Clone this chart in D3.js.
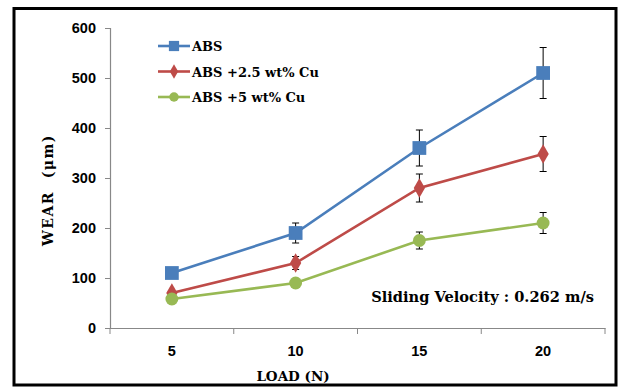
<!DOCTYPE html>
<html><head><meta charset="utf-8">
<script src="https://cdn.jsdelivr.net/npm/d3@7"></script>
<style>body{margin:0;background:#fff}svg{display:block}</style>
</head><body>
<svg id="c" width="620" height="387"></svg>
<script>
const loads = ["5","10","15","20"];
const seriesNames = ["ABS","ABS +2.5 wt% Cu","ABS +5 wt% Cu"];
const absWear = [110,190,360,510];
const absErr = [0,20,36,51];
const cu25Wear = [70,130,280,348];
const cu25Err = [0,13,28,35];
const cu5Wear = [58,90,175,210];
const cu5Err = [0,0,17,21];
const yTicks = [0,100,200,300,400,500,600];
const colors = ["#4a7ebb","#be4b48","#98b954"];
const symbols = [d3.symbolSquare,d3.symbolDiamond,d3.symbolCircle];
const symSizes = [190,110,130];

const svg = d3.select("#c");
svg.append("rect").attr("x",14).attr("y",8.5).attr("width",602).attr("height",376.5).attr("fill","#fff").attr("stroke","#000").attr("stroke-width",3);

const x = d3.scaleBand().domain(loads).range([110,605]);
const y = d3.scaleLinear().domain([0,600]).range([328,28]);

const ax = svg.append("g").attr("transform","translate(0,328)").call(d3.axisBottom(x).tickSize(0).tickFormat(""));
ax.select(".domain").attr("stroke","#888").attr("stroke-width",1.2);
svg.append("g").selectAll("line").data(d3.range(loads.length+1)).join("line")
  .attr("x1",i=>110+i*x.step()).attr("x2",i=>110+i*x.step()).attr("y1",328).attr("y2",334).attr("stroke","#888");
svg.append("g").selectAll("text").data(loads).join("text")
  .attr("x",d=>x(d)+x.bandwidth()/2).attr("y",356).attr("text-anchor","middle")
  .attr("font-family","Liberation Sans, Arial").attr("font-weight","bold").attr("font-size",14.5).text(d=>d);

const ay = svg.append("g").attr("transform","translate(110,0)").call(d3.axisLeft(y).tickValues(yTicks).tickSize(5).tickFormat(""));
ay.select(".domain").attr("stroke","#888").attr("stroke-width",1.2);
ay.selectAll(".tick line").attr("stroke","#888");
svg.append("g").selectAll("text").data(yTicks).join("text")
  .attr("x",96).attr("y",d=>y(d)+5).attr("text-anchor","end")
  .attr("font-family","Liberation Sans, Arial").attr("font-weight","bold").attr("font-size",14.5).text(d=>d);

svg.append("text").attr("transform","translate(53,190) rotate(-90)").attr("text-anchor","middle")
  .attr("font-family","DejaVu Serif").attr("font-weight","bold").attr("font-size",14).attr("letter-spacing",1.5)
  .attr("xml:space","preserve").style("white-space","pre").text("WEAR  (μm)");
svg.append("text").attr("x",293).attr("y",381).attr("text-anchor","middle")
  .attr("font-family","DejaVu Serif").attr("font-weight","bold").attr("font-size",13.5).text("LOAD (N)");
svg.append("text").attr("x",594).attr("y",302).attr("text-anchor","end")
  .attr("font-family","DejaVu Serif").attr("font-weight","bold").attr("font-size",14.6).text("Sliding Velocity : 0.262 m/s");

const data = [[absWear,absErr],[cu25Wear,cu25Err],[cu5Wear,cu5Err]];
const cx = d => x(d)+x.bandwidth()/2;
data.forEach(([vals,errs],si)=>{
  const pts = loads.map((l,i)=>({l,v:vals[i],e:errs[i]}));
  svg.append("path").datum(pts).attr("fill","none").attr("stroke",colors[si]).attr("stroke-width",2.6)
    .attr("d",d3.line().x(p=>cx(p.l)).y(p=>y(p.v)));
  const eg = svg.append("g").attr("stroke","#000").attr("stroke-width",1);
  pts.filter(p=>p.e>0).forEach(p=>{
    eg.append("line").attr("x1",cx(p.l)).attr("x2",cx(p.l)).attr("y1",y(p.v+p.e)).attr("y2",y(p.v-p.e));
    [p.v+p.e,p.v-p.e].forEach(v=>eg.append("line").attr("x1",cx(p.l)-3.5).attr("x2",cx(p.l)+3.5).attr("y1",y(v)).attr("y2",y(v)));
  });
  svg.append("g").selectAll("path").data(pts).join("path")
    .attr("transform",p=>`translate(${cx(p.l)},${y(p.v)})`)
    .attr("d",d3.symbol().type(symbols[si]).size(symSizes[si])).attr("fill",colors[si]);
});

// legend
seriesNames.forEach((n,i)=>{
  const ly = 46 + i*25.5;
  svg.append("line").attr("x1",158).attr("x2",190).attr("y1",ly).attr("y2",ly).attr("stroke",colors[i]).attr("stroke-width",2.6);
  svg.append("path").attr("transform",`translate(174,${ly})`).attr("d",d3.symbol().type(symbols[i]).size(symSizes[i]*0.55)).attr("fill",colors[i]);
  svg.append("text").attr("x",192).attr("y",ly+5).attr("font-family","DejaVu Serif").attr("font-weight","bold").attr("font-size",13).text(n);
});
</script>
</body></html>
